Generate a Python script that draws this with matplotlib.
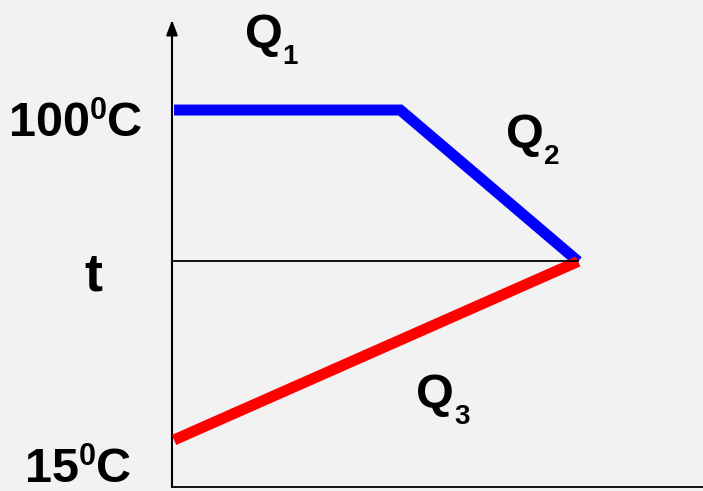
import matplotlib
matplotlib.use("Agg")
import matplotlib.pyplot as plt

# ---- data ----
x_hot = [0.0, 0.56, 1.0]        # hot stream path (relative length)
T_hot = [100, 100, 61]          # °C
x_cold = [0.0, 1.0]
T_cold = [15, 61]
x_t = [0.0, 1.0]
T_t = [61, 61]
tick_vals = [100, 61, 15]
tick_text = [("100", "0", "C"), ("t", "", ""), ("15", "0", "C")]
q_labels = [("Q", "1"), ("Q", "2"), ("Q", "3")]
q_pos = [(0.18, 116.0), (0.826, 90.2), (0.604, 23.2)]

W, H, DPI = 703, 491, 100
BG = "#f2f2f2"
FONT = "Liberation Sans"

fig = plt.figure(figsize=(W / DPI, H / DPI), dpi=DPI, facecolor=BG)
ax = fig.add_axes([172 / W, (H - 487) / H, (W - 172) / W, (487 - 20) / H])
ax.set_facecolor(BG)
ax.set_xlim(-0.005, 1.309)
ax.set_ylim(2.88, 123.2)
for s in ["top", "right", "left"]:
    ax.spines[s].set_visible(False)
ax.spines["bottom"].set_linewidth(1.3)
ax.set_xticks([])
ax.set_yticks([])

# y axis with arrow
ax.annotate("", xy=(0, 1), xycoords="axes fraction", xytext=(0, 0),
            arrowprops=dict(arrowstyle="-|>,head_length=0.45,head_width=0.17",
                            lw=1.5, color="k", shrinkA=0, shrinkB=0,
                            mutation_scale=20))

ax.plot(x_hot, T_hot, color="#0000ff", lw=7.9, solid_capstyle="butt",
        solid_joinstyle="miter", zorder=3)
ax.plot(x_cold, T_cold, color="#ff0000", lw=7.9, solid_capstyle="butt",
        zorder=4)
ax.plot(x_t, T_t, color="k", lw=1.3, zorder=5)


def composite(anchor, parts, align="left"):
    texts = []
    for s, size, rise in parts:
        texts.append(fig.text(0, 0, s, fontsize=size, fontweight="bold",
                              family=FONT, transform=None, va="baseline",
                              ha="left"))
    fig.canvas.draw()
    r = fig.canvas.get_renderer()
    widths = [t.get_window_extent(r).width if t.get_text() else 0 for t in texts]
    total = sum(widths)
    x0 = anchor[0] - (total / 2 if align == "center" else 0)
    for t, w, (s, size, rise) in zip(texts, widths, parts):
        t.set_position((x0, anchor[1] + rise))
        x0 += w


# y tick labels
offsets = [(-99, -26), (-80.5, -29), (-96.5, -42)]
for val, (main, sup, unit), (dx, dy) in zip(tick_vals, tick_text, offsets):
    px, py = ax.transData.transform((0, val))
    if sup:
        parts = [(main, 35, 0), (sup, 22, 17), (unit, 35, 0)]
    else:
        parts = [(main, 39, 0)]
    composite((px + dx, py + dy), parts, align="center")

# Q labels
for (q, sub), (qx, qy) in zip(q_labels, q_pos):
    px, py = ax.transData.transform((qx, qy))
    composite((px - 2, py), [(q, 35, 0), (sub, 20, -16)])

fig.savefig("out.png", dpi=DPI, facecolor=BG)
